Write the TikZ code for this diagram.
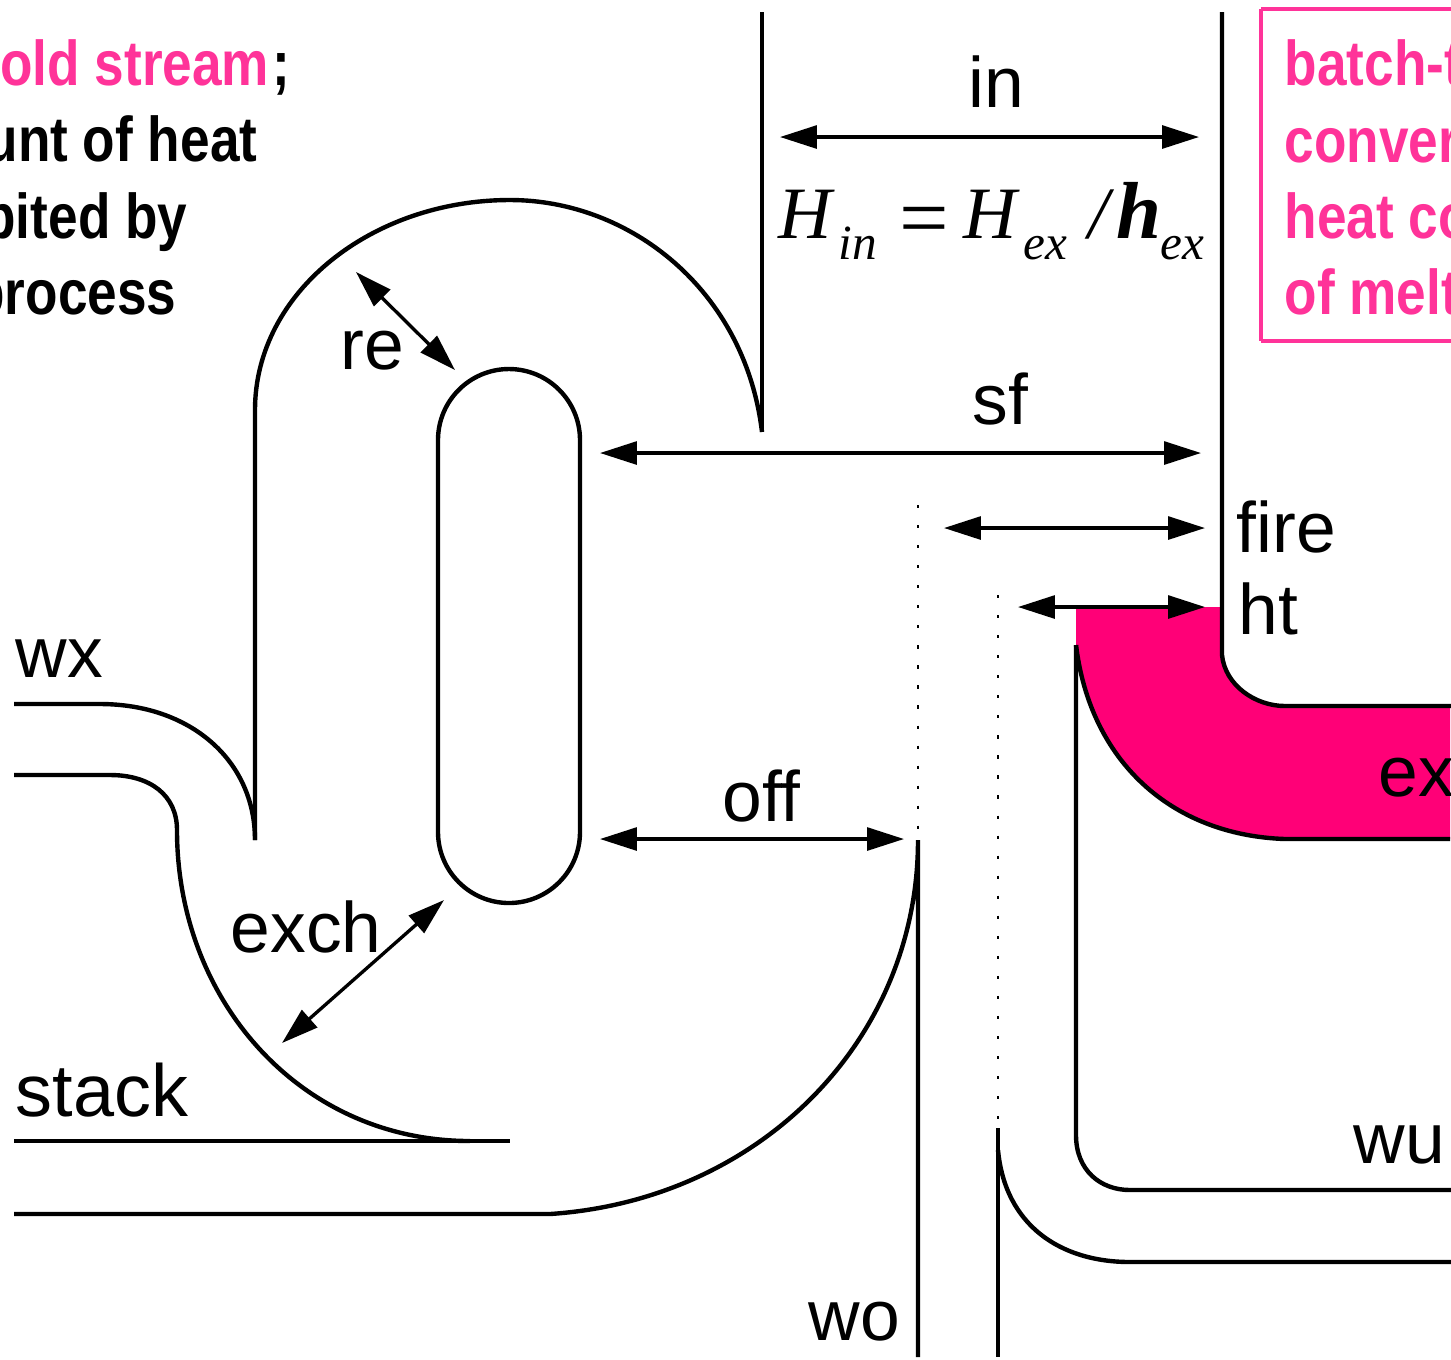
\documentclass[tikz,border=0pt]{standalone}
\usepackage{fontspec}
\usetikzlibrary{arrows.meta}
\setmainfont{Liberation Sans}
\newfontfamily\noteface[FakeStretch=0.84]{Liberation Sans}
\newfontfamily\eqnface{Liberation Serif}
\definecolor{notepink}{HTML}{FF3399}
\definecolor{flamepink}{HTML}{FF0077}
\tikzset{
    wall/.style={line width=1.25pt},
    dotline/.style={line width=0.55pt,dash pattern=on 0.9pt off 4.8pt},
    dimarrow/.style={line width=0.95pt,{Triangle[length=10.5pt,width=6.5pt]}-{Triangle[length=10.5pt,width=6.5pt]}},
    partlabel/.style={anchor=base west,inner sep=0pt,font=\fontsize{20.3}{21}\selectfont},
    notetext/.style={inner sep=0pt,font=\noteface\bfseries\fontsize{18}{19}\selectfont},
    eqnbig/.style={anchor=base west,inner sep=0pt,font=\eqnface\itshape\fontsize{21}{21}\selectfont},
    eqnsub/.style={anchor=base west,inner sep=0pt,font=\eqnface\itshape\fontsize{14}{14}\selectfont}
}
\begin{document}
\begin{tikzpicture}[x=0.01cm,y=-0.01cm]
    \useasboundingbox (0,0) rectangle (1451,1359);
    % heated region
    \fill[flamepink] (1076,607) -- (1222,607) -- (1222,655) .. controls (1225,685) and (1255,706) .. (1285,706) -- (1450,706) -- (1450,839) -- (1285,839) .. controls (1170,835) and (1090,760) .. (1076,645) -- cycle;
    % walls
    \draw[wall] (762,12) -- (762,432);
    \draw[wall] (1222,12) -- (1222,655) .. controls (1225,685) and (1255,706) .. (1285,706) -- (1451,706);
    \draw[wall] (762,432) .. controls (745,290) and (630,200) .. (510,200) .. controls (372,200) and (255,292) .. (255,410) -- (255,840);
    \draw[wall] (14,704) -- (100,704) .. controls (190,704) and (255,760) .. (255,840);
    \draw[wall] (14,775) -- (110,775) .. controls (150,775) and (177,795) .. (177,830) .. controls (177,1000) and (300,1141) .. (470,1141);
    \draw[wall] (14,1141) -- (510,1141);
    \draw[wall] (14,1214) -- (550,1214) .. controls (760,1200) and (918,1040) .. (918,840) -- (918,1357);
    \draw[wall,rounded corners=0.71cm] (438,369) rectangle (580,903);
    \draw[wall] (998,1128) -- (998,1357);
    \draw[wall] (998,1150) .. controls (1005,1225) and (1060,1262) .. (1130,1262) -- (1451,1262);
    \draw[wall] (1076,645) -- (1076,1135) .. controls (1076,1170) and (1100,1190) .. (1130,1190) -- (1451,1190);
    \draw[wall] (1076,645) .. controls (1090,760) and (1170,835) .. (1285,839) -- (1450,839);
    \draw[dotline] (918,505) -- (918,840);
    \draw[dotline] (998,595) -- (998,1128);
    % dimension ends
    \coordinate (inL) at (780,137);
    \coordinate (inR) at (1199,137);
    \coordinate (sfL) at (600,453);
    \coordinate (sfR) at (1201,453);
    \coordinate (fireL) at (944,528);
    \coordinate (fireR) at (1205,528);
    \coordinate (htL) at (1018,607);
    \coordinate (htR) at (1205,607);
    \coordinate (offL) at (600,839);
    \coordinate (offR) at (904,839);
    \coordinate (reA) at (356,272);
    \coordinate (reB) at (455,370);
    \coordinate (exchA) at (282,1043);
    \coordinate (exchB) at (444,900);
    \draw[dimarrow] (inL) to (inR);
    \draw[dimarrow] (sfL) to (sfR);
    \draw[dimarrow] (fireL) to (fireR);
    \draw[dimarrow] (htL) to (htR);
    \draw[dimarrow] (offL) to (offR);
    \draw[dimarrow] (reA) to (reB);
    \draw[dimarrow] (exchA) to (exchB);
    % part names
    \node[partlabel] (in) at (968,107) {in};
    \node[partlabel] (sf) at (972,424) {sf};
    \node[partlabel] (fire) at (1236,552) {fire};
    \node[partlabel] (ht) at (1238,634) {ht};
    \node[partlabel] (ex) at (1378,796) {ex};
    \node[partlabel] (off) at (722,821) {off};
    \node[partlabel] (re) at (340,369) {re};
    \node[partlabel] (exch) at (230,952) {exch};
    \node[partlabel] (wx) at (15,677) {wx};
    \node[partlabel,font=\fontsize{21}{21}\selectfont] (stack) at (15,1116) {stack};
    \node[partlabel] (wu) at (1353,1163) {wu};
    \node[partlabel] (wo) at (808,1340) {wo};
    % relation
    \node[eqnbig] (Hin) at (778,238) {H};
    \node[eqnsub] (subin) at (838,259) {in};
    \node[eqnbig,font=\eqnface\fontsize{25}{25}\selectfont] (eq) at (899,247) {=};
    \node[eqnbig] (Hex) at (963,238) {H};
    \node[eqnsub] (subex) at (1023,259) {ex};
    \node[eqnbig] (slash) at (1088,238) {/};
    \node[eqnbig,font=\eqnface\itshape\bfseries\fontsize{23}{23}\selectfont] (hex) at (1116,238) {h};
    \node[eqnsub] (subhex) at (1160,259) {ex};
    % notes
    \node[notetext,anchor=base east] (noteA) at (270,85) {\textcolor{notepink}{cold stream}};
    \node[notetext,anchor=base west] (noteB) at (272,85) {;};
    \node[notetext,anchor=base east] (noteC) at (258,161) {unt of heat};
    \node[notetext,anchor=base east] (noteD) at (188,238) {bited by};
    \node[notetext,anchor=base east] (noteE) at (177,314) {process};
    \draw[notepink,line width=1.25pt] (1261,9) -- (1460,9) (1261,341) -- (1460,341) (1261,9) -- (1261,341);
    \node[notetext,anchor=base west,text=notepink] (boxA) at (1284,85) {batch-t};
    \node[notetext,anchor=base west,text=notepink] (boxB) at (1284,162) {conver};
    \node[notetext,anchor=base west,text=notepink] (boxC) at (1284,238) {heat co};
    \node[notetext,anchor=base west,text=notepink] (boxD) at (1284,314) {of melt};
\end{tikzpicture}
\end{document}
